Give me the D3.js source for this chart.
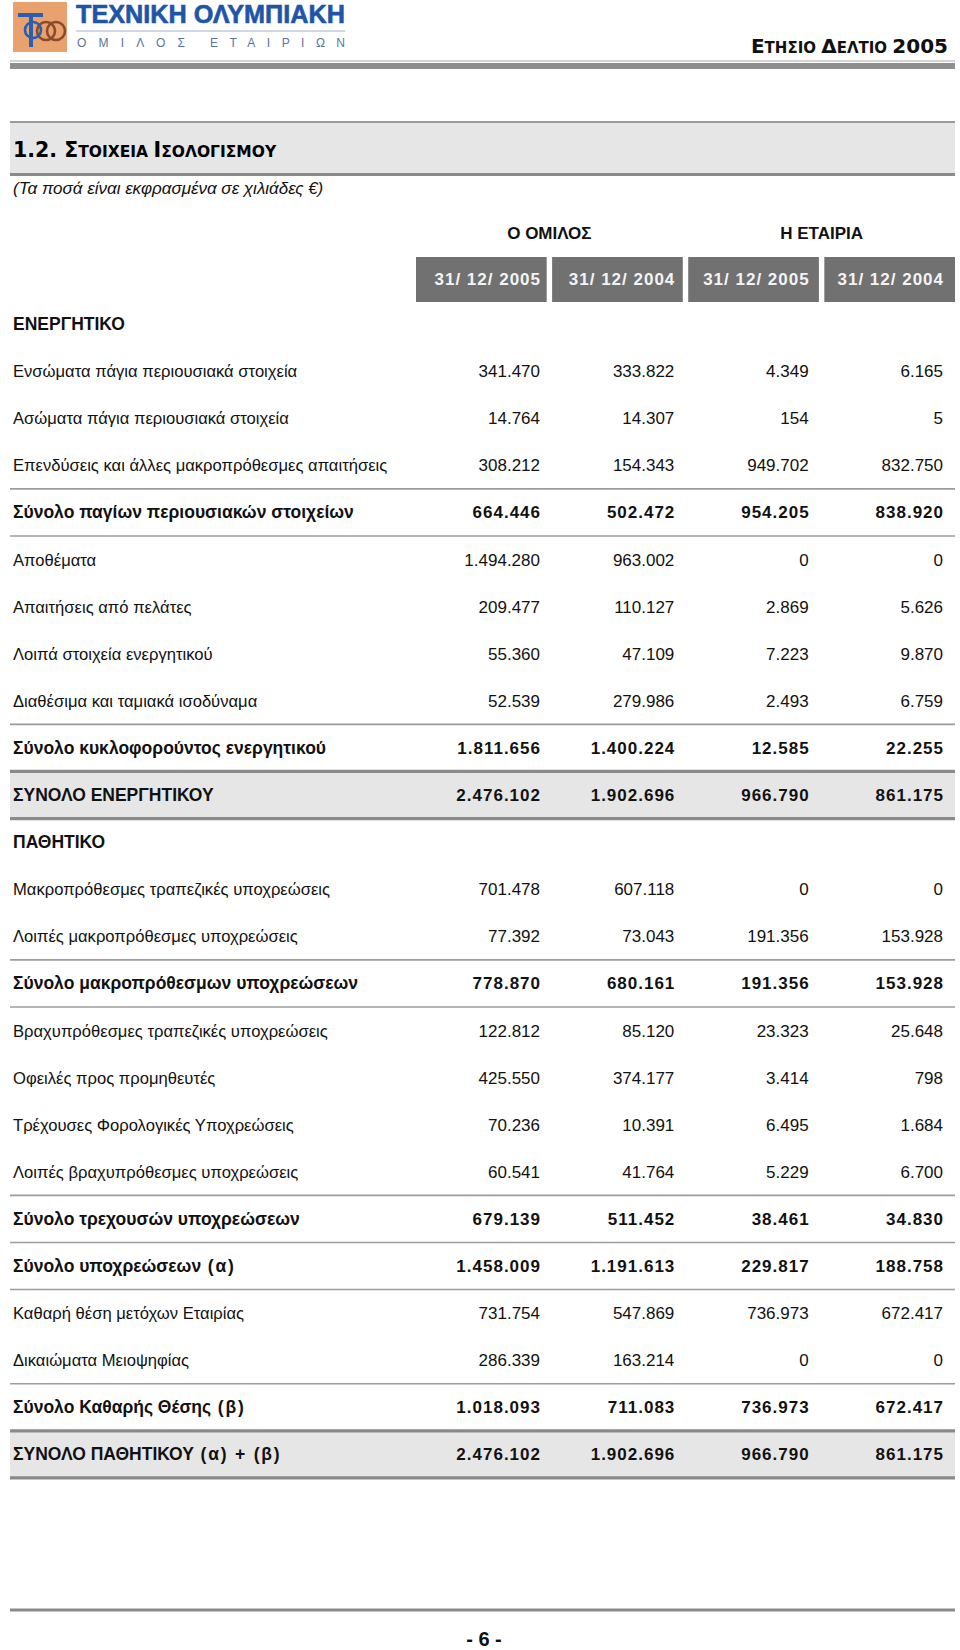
<!DOCTYPE html>
<html><head><meta charset="utf-8">
<script src="https://cdn.jsdelivr.net/npm/d3@7"></script>
<style>
html,body{margin:0;padding:0;background:#fff;}
svg{display:block;}
</style></head>
<body>
<svg id="chart" width="960" height="1650"></svg>
<script>
// ---------- data ----------
const labels = [
  "ΕΝΕΡΓΗΤΙΚΟ",
  "Ενσώματα πάγια περιουσιακά στοιχεία",
  "Ασώματα πάγια περιουσιακά στοιχεία",
  "Επενδύσεις και άλλες μακροπρόθεσμες απαιτήσεις",
  "Σύνολο παγίων περιουσιακών στοιχείων",
  "Αποθέματα",
  "Απαιτήσεις από πελάτες",
  "Λοιπά στοιχεία ενεργητικού",
  "Διαθέσιμα και ταμιακά ισοδύναμα",
  "Σύνολο κυκλοφορούντος ενεργητικού",
  "ΣΥΝΟΛΟ ΕΝΕΡΓΗΤΙΚΟΥ",
  "ΠΑΘΗΤΙΚΟ",
  "Μακροπρόθεσμες τραπεζικές υποχρεώσεις",
  "Λοιπές μακροπρόθεσμες υποχρεώσεις",
  "Σύνολο μακροπρόθεσμων υποχρεώσεων",
  "Βραχυπρόθεσμες τραπεζικές υποχρεώσεις",
  "Οφειλές προς προμηθευτές",
  "Τρέχουσες Φορολογικές Υποχρεώσεις",
  "Λοιπές βραχυπρόθεσμες υποχρεώσεις",
  "Σύνολο τρεχουσών υποχρεώσεων",
  "Σύνολο υποχρεώσεων (α)",
  "Καθαρή θέση μετόχων Εταιρίας",
  "Δικαιώματα Μειοψηφίας",
  "Σύνολο Καθαρής Θέσης (β)",
  "ΣΥΝΟΛΟ ΠΑΘΗΤΙΚΟΥ (α) + (β)"
];
const rowKinds = [
  "section","item","item","item","subtotal","item","item","item","item","subtotal","total",
  "section","item","item","subtotal","item","item","item","item","subtotal","subtotal",
  "item","item","subtotal","total"
];
const group2005 = [null,341470,14764,308212,664446,1494280,209477,55360,52539,1811656,2476102,
  null,701478,77392,778870,122812,425550,70236,60541,679139,1458009,731754,286339,1018093,2476102];
const group2004 = [null,333822,14307,154343,502472,963002,110127,47109,279986,1400224,1902696,
  null,607118,73043,680161,85120,374177,10391,41764,511452,1191613,547869,163214,711083,1902696];
const company2005 = [null,4349,154,949702,954205,0,2869,7223,2493,12585,966790,
  null,0,191356,191356,23323,3414,6495,5229,38461,229817,736973,0,736973,966790];
const company2004 = [null,6165,5,832750,838920,0,5626,9870,6759,22255,861175,
  null,0,153928,153928,25648,798,1684,6700,34830,188758,672417,0,672417,861175];

const columnKeys = ["g2005","g2004","c2005","c2004"];
const columnLabels = ["31/ 12/ 2005","31/ 12/ 2004","31/ 12/ 2005","31/ 12/ 2004"];
const groupLabels = ["Ο ΟΜΙΛΟΣ","Η ΕΤΑΙΡΙΑ"];
const seriesValues = [group2005, group2004, company2005, company2004];

// ---------- setup ----------
const svg = d3.select("#chart");
const SANS = "'Liberation Sans', Arial, Helvetica, sans-serif";
const WIDE = "'DejaVu Sans', Verdana, sans-serif";
const fmt = d3.formatLocale({decimal: ",", thousands: ".", grouping: [3], currency: ["", "€"]}).format(",d");

const x = d3.scaleBand().domain(columnKeys).range([416, 955]).paddingInner(0.04);      // header boxes
const xv = d3.scalePoint().domain(columnKeys).range([540, 943]);                          // right edge of figures
const y = d3.scaleLinear().domain([0, labels.length - 1]).range([324, 324 + (labels.length - 1) * 47.1]);
const L = 10, R = 955;

// ---------- page header ----------
const logo = svg.append("g");
logo.append("rect").attr("x", 13).attr("y", 2).attr("width", 54).attr("height", 50).attr("fill", "#e9a26e");
logo.append("circle").attr("cx", 46).attr("cy", 31).attr("r", 9).attr("fill", "none").attr("stroke", "#8a4b2c").attr("stroke-width", 2.6);
logo.append("circle").attr("cx", 56).attr("cy", 31).attr("r", 9).attr("fill", "none").attr("stroke", "#8a4b2c").attr("stroke-width", 2.6);
logo.append("rect").attr("x", 18).attr("y", 13).attr("width", 25).attr("height", 4).attr("fill", "#2a5fb0");
logo.append("rect").attr("x", 29).attr("y", 13).attr("width", 4).attr("height", 34).attr("fill", "#2a5fb0");
logo.append("circle").attr("cx", 33).attr("cy", 30).attr("r", 8).attr("fill", "none").attr("stroke", "#2a5fb0").attr("stroke-width", 2.6);

svg.append("text").attr("x", 76).attr("y", 23).attr("textLength", 269).attr("lengthAdjust", "spacingAndGlyphs")
  .style("font-family", SANS).style("font-weight", "bold").style("font-size", "25px").attr("fill", "#1f55a8")
  .style("stroke", "#1f55a8").style("stroke-width", "0.6px")
  .text("ΤΕΧΝΙΚΗ ΟΛΥΜΠΙΑΚΗ");
svg.append("line").attr("x1", 76).attr("x2", 345).attr("y1", 31).attr("y2", 31).attr("stroke", "#9fb0c8").attr("stroke-width", 1);
svg.append("text").attr("x", 77).attr("y", 47).attr("textLength", 108).attr("lengthAdjust", "spacing")
  .style("font-family", SANS).style("font-size", "12px").attr("fill", "#5a74a0").text("ΟΜΙΛΟΣ");
svg.append("text").attr("x", 210).attr("y", 47).attr("textLength", 135).attr("lengthAdjust", "spacing")
  .style("font-family", SANS).style("font-size", "12px").attr("fill", "#5a74a0").text("ΕΤΑΙΡΙΩΝ");

const hdr = svg.append("text").attr("x", 948).attr("y", 53).attr("text-anchor", "end")
  .style("font-family", WIDE).style("font-weight", "bold").attr("fill", "#111");
[["Ε",20],["ΤΗΣΙΟ ",15],["Δ",20],["ΕΛΤΙΟ ",15],["2005",20]].forEach(([t, s]) =>
  hdr.append("tspan").style("font-size", s + "px").text(t));

svg.append("line").attr("x1", L).attr("x2", R).attr("y1", 61).attr("y2", 61).attr("stroke", "#a8a8a8").attr("stroke-width", 1);
svg.append("rect").attr("x", L).attr("y", 63).attr("width", R - L).attr("height", 6).attr("fill", "#8e8e8e");

// ---------- section title band ----------
svg.append("rect").attr("x", L).attr("y", 122).attr("width", R - L).attr("height", 52).attr("fill", "#e6e6e6");
svg.append("line").attr("x1", L).attr("x2", R).attr("y1", 122).attr("y2", 122).attr("stroke", "#9a9a9a").attr("stroke-width", 2);
svg.append("line").attr("x1", L).attr("x2", R).attr("y1", 174.5).attr("y2", 174.5).attr("stroke", "#8a8a8a").attr("stroke-width", 3);
const title = svg.append("text").attr("x", 13).attr("y", 157)
  .style("font-family", WIDE).style("font-weight", "bold").attr("fill", "#000");
[["1.2. ",20.5],["Σ",20.5],["ΤΟΙΧΕΙΑ ",15.5],["Ι",20.5],["ΣΟΛΟΓΙΣΜΟΥ",15.5]].forEach(([t, s]) =>
  title.append("tspan").style("font-size", s + "px").text(t));

svg.append("text").attr("x", 13).attr("y", 194)
  .style("font-family", SANS).style("font-style", "italic").style("font-size", "17px").attr("fill", "#111")
  .text("(Τα ποσά είναι εκφρασμένα σε χιλιάδες €)");

// ---------- column headers ----------
const groupCenters = [
  (x("g2005") + x("g2004") + x.bandwidth()) / 2,
  (x("c2005") + x("c2004") + x.bandwidth()) / 2
];
svg.selectAll("text.group").data(groupLabels).join("text").attr("class", "group")
  .attr("x", (d, i) => groupCenters[i]).attr("y", 239).attr("text-anchor", "middle")
  .style("font-family", SANS).style("font-weight", "bold").style("font-size", "17px").attr("fill", "#111")
  .text(d => d);

svg.selectAll("rect.colhead").data(columnKeys).join("rect").attr("class", "colhead")
  .attr("x", d => x(d)).attr("y", 257).attr("width", x.bandwidth()).attr("height", 45).attr("fill", "#717171");
svg.selectAll("text.colhead").data(columnKeys).join("text").attr("class", "colhead")
  .attr("x", d => xv(d) + 1).attr("y", 285).attr("text-anchor", "end")
  .style("font-family", SANS).style("font-weight", "bold").style("font-size", "17px").style("letter-spacing", "1px")
  .attr("fill", "#f4f4f4").text((d, i) => columnLabels[i]);

// ---------- rows ----------
const rows = labels.map((label, i) => ({label, kind: rowKinds[i], i, values: seriesValues.map(s => s[i])}));

// total bands
const totals = rows.filter(r => r.kind === "total");
svg.selectAll("rect.band").data(totals).join("rect").attr("class", "band")
  .attr("x", L).attr("width", R - L).attr("y", d => y(d.i - 0.5)).attr("height", d => y(d.i + 0.5) - y(d.i - 0.5))
  .attr("fill", "#e6e6e6");

// separator lines
const thin = new Set(), thick = new Set();
rows.forEach(r => {
  if (r.kind === "subtotal") { thin.add(r.i - 0.5); thin.add(r.i + 0.5); }
  if (r.kind === "total") { thick.add(r.i - 0.5); thick.add(r.i + 0.5); }
});
thick.forEach(v => thin.delete(v));
svg.selectAll("line.thin").data([...thin]).join("line").attr("class", "thin")
  .attr("x1", L).attr("x2", R).attr("y1", d => y(d)).attr("y2", d => y(d))
  .attr("stroke", "#9c9c9c").attr("stroke-width", 1.6);
svg.selectAll("line.thick").data([...thick]).join("line").attr("class", "thick")
  .attr("x1", L).attr("x2", R).attr("y1", d => y(d)).attr("y2", d => y(d))
  .attr("stroke", "#8a8a8a").attr("stroke-width", 3.2);

const rowG = svg.selectAll("g.row").data(rows).join("g").attr("class", "row")
  .attr("transform", d => `translate(0,${y(d.i) + 6})`);

const labelText = rowG.append("text").attr("x", 13)
  .style("font-family", SANS)
  .style("font-size", d => d.kind === "item" ? "16.6px" : "17.5px")
  .style("font-weight", d => d.kind === "item" ? "normal" : "bold")
  .attr("fill", "#111");
labelText.each(function(d) {
  const k = d.label.indexOf(" (");
  const t = d3.select(this);
  if (k < 0) { t.text(d.label); return; }
  t.append("tspan").text(d.label.slice(0, k));
  t.append("tspan").style("letter-spacing", "1.8px").text(d.label.slice(k));
});

rowG.selectAll("text.val").data(d => d.values.map((v, k) => ({v, k, bold: d.kind !== "item"})).filter(e => e.v !== null))
  .join("text").attr("class", "val")
  .attr("x", e => xv(columnKeys[e.k]) + (e.bold ? 1 : 0))
  .attr("text-anchor", "end")
  .style("font-family", SANS).style("font-size", "17px")
  .style("font-weight", e => e.bold ? "bold" : "normal")
  .style("letter-spacing", e => e.bold ? "1px" : "0px")
  .attr("fill", "#111").text(e => fmt(e.v));

// ---------- footer ----------
svg.append("line").attr("x1", L).attr("x2", R).attr("y1", 1610).attr("y2", 1610).attr("stroke", "#8a8a8a").attr("stroke-width", 3);
svg.append("text").attr("x", 484).attr("y", 1646).attr("text-anchor", "middle")
  .style("font-family", SANS).style("font-weight", "bold").style("font-size", "20px").attr("fill", "#111")
  .text("- 6 -");
</script>
</body></html>
